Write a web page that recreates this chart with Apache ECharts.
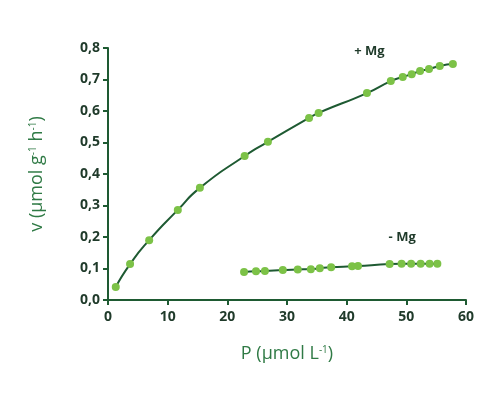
<!DOCTYPE html><html><head><meta charset="utf-8"><script src="https://cdn.jsdelivr.net/npm/echarts@6/dist/echarts.min.js"></script></head><body style="margin:0;background:#fff"><div id="c" style="width:480px;height:400px"></div><script>
const plusX=[1.3,3.7,6.9,11.7,15.4,22.9,26.8,33.7,35.3,43.4,47.4,49.4,50.9,52.3,53.8,55.6,57.8];
const plusY=[0.041,0.114,0.190,0.286,0.356,0.457,0.502,0.578,0.594,0.657,0.695,0.708,0.717,0.727,0.733,0.743,0.749];
const minusX=[22.8,24.8,26.3,29.3,31.8,34.0,35.5,37.4,40.9,41.9,47.2,49.2,50.8,52.4,53.9,55.2];
const minusY=[0.089,0.091,0.092,0.095,0.097,0.098,0.101,0.104,0.107,0.108,0.114,0.115,0.115,0.115,0.115,0.115];
const dk='#1e5a32', pt='#7cc247';
const z=(a,b)=>a.map((v,i)=>[v,b[i]]);
const ax={lineStyle:{color:dk,width:2}};
const lab=t=>({show:true,position:'inside',formatter:t,color:'#1f3a2a',fontSize:13,fontWeight:'bold',fontFamily:'Open Sans'});
const nm={a:{color:'#2f7a45',fontSize:18,fontFamily:'Open Sans'},s:{color:'#2f7a45',fontSize:10,verticalAlign:'top',fontFamily:'Open Sans'}};
const c=echarts.init(document.getElementById('c'));
c.setOption({animation:false,
grid:{left:108,right:14,top:48,bottom:100},
xAxis:{type:'value',min:0,max:60,interval:10,axisLine:ax,axisTick:{lineStyle:{color:dk,width:2},length:5},splitLine:{show:false},
 axisLabel:{color:'#1f3a2a',fontSize:14,fontWeight:'bold',fontFamily:'Open Sans',margin:10},
 name:'{a|P (μmol L}{s|-1}{a|)}',nameLocation:'middle',nameGap:45,nameTextStyle:{rich:nm}},
yAxis:{type:'value',min:0,max:0.8,interval:0.1,axisLine:{show:true,...ax},axisTick:{show:true,lineStyle:{color:dk,width:2},length:5},splitLine:{show:false},
 axisLabel:{color:'#1f3a2a',fontSize:14,fontWeight:'bold',fontFamily:'Open Sans',formatter:v=>v.toFixed(1).replace('.',',')},
 name:'{a|v (μmol g}{s|-1}{a| h}{s|-1}{a|)}',nameLocation:'middle',nameGap:62,nameTextStyle:{rich:nm}},
series:[
{type:'line',data:z(plusX,plusY),smooth:0.6,symbol:'circle',symbolSize:8,itemStyle:{color:pt},lineStyle:{color:dk,width:2},
 markPoint:{symbol:'rect',symbolSize:1,itemStyle:{color:'rgba(0,0,0,0)'},data:[{coord:[43.8,0.79],label:lab('+ Mg')}]}},
{type:'line',data:z(minusX,minusY),smooth:true,symbol:'circle',symbolSize:8,itemStyle:{color:pt},lineStyle:{color:dk,width:2},
 markPoint:{symbol:'rect',symbolSize:1,itemStyle:{color:'rgba(0,0,0,0)'},data:[{coord:[49.3,0.2],label:lab('- Mg')}]}}
]});
</script></body></html>
